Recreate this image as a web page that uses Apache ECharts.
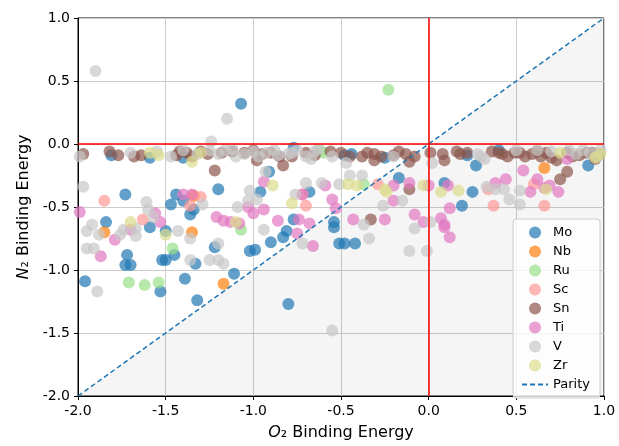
<!DOCTYPE html>
<html>
<head>
<meta charset="utf-8">
<script src="https://cdn.jsdelivr.net/npm/echarts@6/dist/echarts.min.js"></script>
<style>
  html, body { margin: 0; padding: 0; background: #fff; }
  #chart { width: 619px; height: 446px; }
</style>
</head>
<body>
<div id="chart"></div>
<script>
// 数据 [O2, N2]
var moData = [[-1.07,0.32],[-0.8,-1.27],[-1.96,-1.09],[-1.72,-0.88],[-1.73,-0.96],[-1.70,-0.96],[-1.53,-1.17],[-1.52,-0.92],
  [-1.22,-0.82],[-1.45,-0.88],[-1.33,-0.95],[-1.39,-1.07],[-1.32,-1.24],[-1.11,-1.03],[-1.02,-0.85],[-1.5,-0.92],
  [-0.9,-0.78],[-0.83,-0.74],[-0.81,-0.69],[-0.54,-0.66],[-0.51,-0.79],[-0.99,-0.84],[-0.48,-0.79],[-0.42,-0.79],
  [-1.2,-0.36],[-1.44,-0.40],[-1.47,-0.48],[-1.40,-0.45],[-1.36,-0.56],[-1.34,-0.52],[-1.40,-0.11],[-0.91,-0.22],
  [-0.96,-0.38],[-0.68,-0.38],[-0.77,-0.6],[-0.54,-0.62],[-0.77,-0.03],[-0.44,-0.08],[-0.48,-0.09],[-0.17,-0.27],
  [-0.25,-0.11],[0.22,-0.09],[0.27,-0.17],[0.09,-0.31],[0.25,-0.38],[0.19,-0.49],[0.4,-0.05],[0.91,-0.17],
  [-1.73,-0.40],[-1.81,-0.09],[-1.59,-0.11],[-1.59,-0.66],[-1.84,-0.62],[-1.5,-0.69]];
var nbData = [[-1.17,-1.11],[-1.85,-0.70],[0.66,-0.19],[-1.34,-0.41],[-1.35,-0.70]];
var ruData = [[-0.23,0.43],[-1.71,-1.10],[-1.62,-1.12],[-1.54,-1.10],[-0.62,-0.05],[-0.6,-0.07],[-0.37,-0.32],
  [-1.46,-0.83],[-1.07,-0.68]];
var scData = [[-1.85,-0.45],[-1.63,-0.60],[-0.70,-0.49],[-0.72,-0.40],[-0.29,-0.32],[0.34,-0.36],[0.37,-0.49],
  [0.60,-0.32],[0.66,-0.49],[-1.36,-0.49],[-1.3,-0.42]];
var snData = [[-1.97,-0.08],[-1.82,-0.06],[-1.77,-0.09],[-1.68,-0.10],[-1.64,-0.09],[-1.44,-0.09],[-1.38,-0.07],
  [-1.3,-0.06],[-1.26,-0.08],[-1.18,-0.07],[-1.12,-0.06],[-1.05,-0.07],[-1.22,-0.21],[-0.98,-0.13],[-0.83,-0.17],
  [-0.9,-0.07],[-0.85,-0.1],[-0.56,-0.06],[-0.5,-0.07],[-0.31,-0.08],[-0.27,-0.1],[-0.31,-0.13],[-0.13,-0.08],
  [-0.08,-0.1],[-0.11,-0.14],[-0.11,-0.36],[-0.33,-0.6],[0.01,-0.07],[0.08,-0.08],[0.09,-0.13],[0.16,-0.06],
  [0.18,-0.08],[0.36,-0.06],[0.42,-0.08],[0.49,-0.07],[0.52,-0.07],[0.59,-0.08],[0.64,-0.1],[0.7,-0.11],
  [0.73,-0.13],[0.79,-0.07],[0.86,-0.09],[0.79,-0.22],[0.75,-0.28],[0.93,-0.07],[0.97,-0.08],[-0.2,-0.09],
  [-0.38,-0.1],[-0.7,-0.07],[-1.42,-0.06],[-1.35,-0.1],[-1.0,-0.05],[-0.95,-0.08],[-0.78,-0.1],[-0.65,-0.09],
  [-0.45,-0.1],[-0.35,-0.07],[-0.17,-0.06],[0.22,-0.07],[0.45,-0.1],[0.55,-0.1],[0.62,-0.06],[0.67,-0.07],
  [0.82,-0.1],[0.9,-0.07],[0.95,-0.12],[0.4,-0.07]];
var tiData = [[-1.99,-0.54],[-1.56,-0.55],[-1.53,-0.62],[-1.87,-0.89],[-1.79,-0.76],[-1.7,-0.68],[-1.21,-0.58],
  [-1.17,-0.61],[-1.13,-0.62],[-1.08,-0.63],[-1.03,-0.5],[-1.35,-0.40],[-0.94,-0.3],[-0.94,-0.52],[-0.86,-0.61],
  [-0.72,-0.4],[-0.59,-0.33],[-0.55,-0.44],[-0.53,-0.51],[-0.74,-0.6],[-0.68,-0.63],[-0.2,-0.33],[-0.11,-0.31],
  [-0.2,-0.45],[-0.43,-0.6],[-0.25,-0.6],[-0.08,-0.56],[-0.03,-0.62],[0.0,-0.33],[0.11,-0.33],[0.38,-0.31],
  [0.44,-0.28],[0.12,-0.51],[0.07,-0.59],[0.09,-0.64],[0.09,-0.66],[0.12,-0.74],[0.54,-0.21],[0.62,-0.28],
  [0.69,-0.33],[0.79,-0.12],[0.58,-0.38],[0.74,-0.38],[0.66,-0.35],[-0.75,-0.71],[-0.66,-0.81],[-1.0,-0.55],
  [-1.4,-0.4]];
var vData = [[-1.9,0.58],[-1.15,0.2],[-1.24,0.02],[-1.97,-0.34],[-1.61,-0.46],[-1.6,-0.52],[-1.57,-0.58],
  [-1.95,-0.69],[-1.92,-0.64],[-1.88,-0.72],[-1.95,-0.83],[-1.91,-0.83],[-1.89,-1.17],[-1.76,-0.72],[-1.74,-0.68],
  [-1.67,-0.67],[-1.67,-0.73],[-1.43,-0.69],[-1.36,-0.75],[-1.2,-0.79],[-1.36,-0.92],[-1.25,-0.92],[-1.2,-0.92],
  [-1.17,-0.95],[-0.72,-0.79],[-0.55,-1.48],[-0.94,-0.68],[-0.11,-0.85],[-0.01,-0.85],[-0.34,-0.75],[-0.08,-0.67],
  [-1.29,-0.48],[-1.02,-0.37],[-1.03,-0.45],[-1.09,-0.5],[-0.7,-0.31],[-0.61,-0.31],[-0.76,-0.4],[-0.98,-0.44],
  [-0.51,-0.32],[-0.45,-0.25],[-0.38,-0.25],[-0.26,-0.49],[-0.15,-0.45],[-0.37,-0.64],[0.01,-0.62],[0.33,-0.34],
  [0.38,-0.36],[0.43,-0.36],[0.46,-0.44],[0.52,-0.37],[0.52,-0.48],[-1.55,-0.06],[-1.47,-0.1],[-1.25,-0.05],
  [-1.2,-0.08],[-1.16,-0.05],[-1.1,-0.1],[-1.0,-0.06],[-0.93,-0.07],[-0.88,-0.05],[-0.8,-0.08],[-0.75,-0.05],
  [-0.7,-0.1],[-0.65,-0.06],[-0.55,-0.1],[-0.47,-0.15],[-0.2,-0.1],[0.02,-0.15],[0.28,-0.08],[0.32,-0.12],
  [0.3,-0.1],[0.62,-0.05],[0.88,-0.05],[0.92,-0.07],[0.98,-0.05],[-1.99,-0.1],[-0.93,-0.22],
  [-1.7,-0.07],[-1.4,-0.05],[-1.32,-0.08],[-1.05,-0.08],[-0.97,-0.1],[-0.86,-0.09],[-0.78,-0.07],[-0.67,-0.12],
  [-0.63,-0.04],[0.5,-0.05],[0.7,-0.06],[0.8,-0.05],[0.84,-0.08],[0.96,-0.1],[-1.12,-0.04]];
var zrData = [[-1.59,-0.07],[-1.54,-0.09],[-1.70,-0.62],[-1.35,-0.14],[-1.1,-0.62],[-0.89,-0.33],[-0.78,-0.47],
  [-0.46,-0.32],[-0.41,-0.33],[-0.25,-0.36],[-0.03,-0.33],[0.07,-0.38],[0.17,-0.37],[0.67,-0.36],[0.75,-0.07],
  [0.95,-0.11],[0.98,-0.08],[-1.5,-0.72],[-1.3,-0.07],[-0.24,-0.38]];

var metals = ['Mo', 'Nb', 'Ru', 'Sc', 'Sn', 'Ti', 'V', 'Zr'];
var metalData = [moData, nbData, ruData, scData, snData, tiData, vData, zrData];
var metalColors = ['#1f77b4', '#ff7f0e', '#98df8a', '#ff9896', '#8c564b', '#e377c2', '#c7c7c7', '#dbdb8d'];
var parityEnds = [-2, 1];   // y = x

var chart = echarts.init(document.getElementById('chart'));

var series = [];
// 阴影区域 (y < x)
series.push({
    type: 'line',
    data: parityEnds.map(function (v) { return [v, v]; }),
    symbol: 'none',
    silent: true,
    lineStyle: { width: 0 },
    areaStyle: { color: 'rgba(0,0,0,0.055)', origin: 'start' },
    z: 1
});
metals.forEach(function (m, i) {
    series.push({
        name: m,
        type: 'scatter',
        data: metalData[i],
        symbolSize: 12,
        itemStyle: { color: metalColors[i], opacity: 0.7 },
        z: 3
    });
});
// Parity 线 + 红色零线
series.push({
    name: 'Parity',
    type: 'line',
    data: parityEnds.map(function (v) { return [v, v]; }),
    symbol: 'none',
    silent: true,
    lineStyle: { color: '#1f77b4', type: [5, 3], width: 1.5 },
    color: '#1f77b4',
    markLine: {
        silent: true,
        symbol: 'none',
        label: { show: false },
        lineStyle: { color: '#ff0000', type: 'solid', width: 1.5 },
        data: [{ xAxis: 0 }, { yAxis: 0 }]
    },
    z: 4
});

var axisCommon = {
    type: 'value',
    min: -2,
    max: 1,
    interval: 0.5,
    axisLine: { show: true, onZero: false, lineStyle: { color: '#000', width: 1 } },
    axisTick: { show: true, length: 4, lineStyle: { color: '#000' } },
    axisLabel: {
        color: '#000',
        fontSize: 14,
        fontFamily: 'DejaVu Sans',
        formatter: function (v) { return v.toFixed(1); }
    },
    splitLine: { show: true, lineStyle: { color: '#cccccc', width: 1 } },
    nameLocation: 'middle',
    nameTextStyle: {
        color: '#000',
        fontSize: 16,
        fontFamily: 'DejaVu Sans',
        rich: { i: { fontStyle: 'italic', fontSize: 16, fontFamily: 'DejaVu Sans', color: '#000' } }
    }
};

var option = {
    animation: false,
    backgroundColor: '#fff',
    textStyle: { fontFamily: 'DejaVu Sans' },
    grid: {
        left: 78, right: 15, top: 18, bottom: 45,
        show: true, borderColor: '#000', borderWidth: 1, backgroundColor: '#fff'
    },
    legend: {
        orient: 'vertical',
        right: 19,
        bottom: 48,
        itemGap: 6,
        itemWidth: 26,
        itemHeight: 12,
        padding: [7, 10, 7, 8],
        borderColor: '#cccccc',
        borderWidth: 1,
        borderRadius: 3,
        backgroundColor: 'rgba(255,255,255,0.8)',
        textStyle: { fontSize: 13, color: '#000', fontFamily: 'DejaVu Sans' },
        data: metals.map(function (m) { return { name: m, icon: 'circle' }; })
            .concat([{ name: 'Parity', itemStyle: { opacity: 0 } }])
    },
    xAxis: Object.assign({}, axisCommon, {
        name: '{i|O}₂ Binding Energy',
        nameGap: 29
    }),
    yAxis: Object.assign({}, axisCommon, {
        name: '{i|N}₂ Binding Energy',
        nameGap: 42
    }),
    series: series
};

chart.setOption(option);
</script>
</body>
</html>
